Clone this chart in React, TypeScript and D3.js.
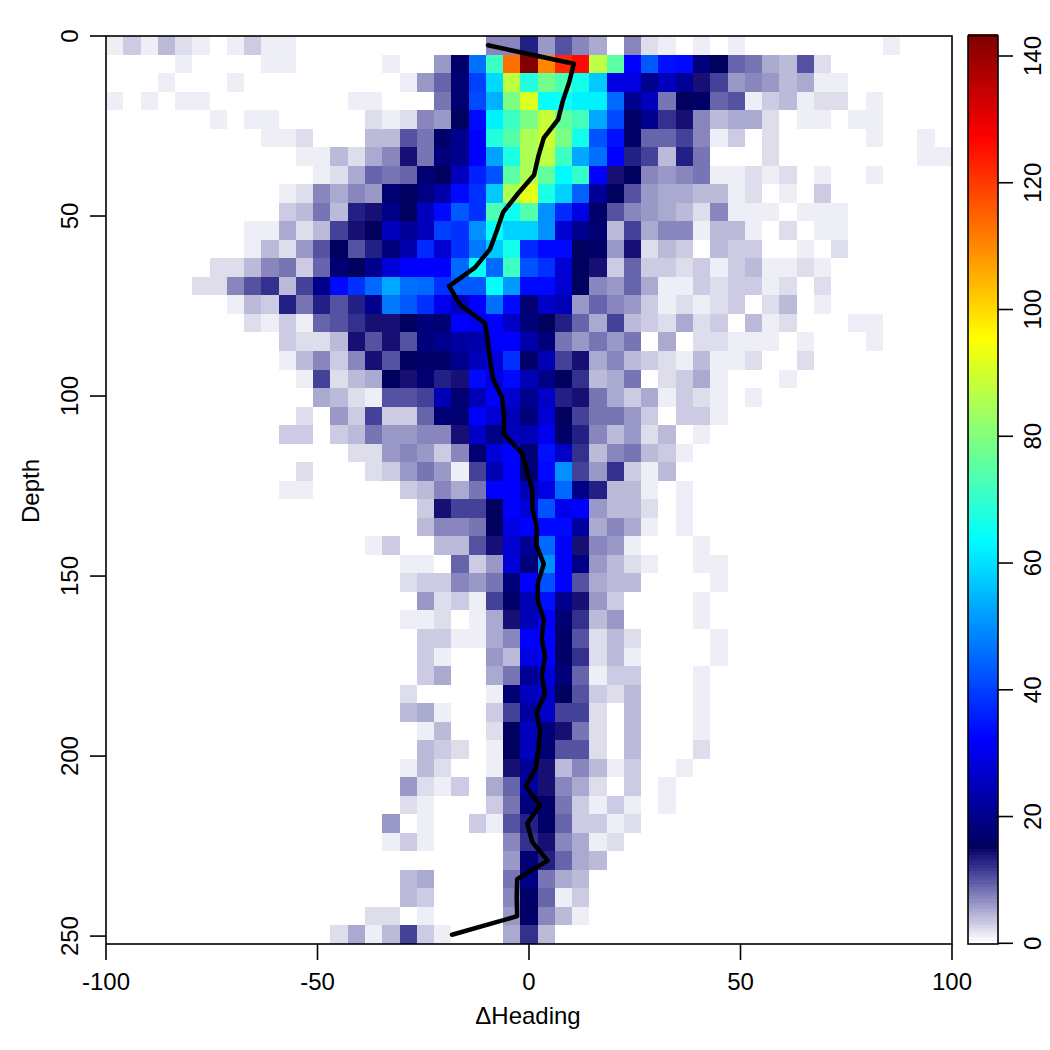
import React from 'react';
import * as d3 from 'd3';

// bin counts per depth row, left to right; missing trailing cells are empty
const z10 = [0, 0, 0, 0, 0, 0, 0, 0, 0, 0];
const counts: number[][] = [
  [1,3,1,4,2,1,0,1,3,1, 1,0,0,0,0,0,0,0,0,0, 0,0,7,7,13,6,10,7,5,0, 7,2,1,0,1,0,1,0,0,0, 0,0,0,0,0,1],
  [0,0,0,0,1,0,0,0,0,1, 1,0,0,0,0,0,1,0,0,6, 16,46,71,113,143,110,122,126,87,75, 32,43,34,33,18,15,9,8,5,4, 10,2],
  [0,0,0,1,0,0,0,1,0,0, 0,0,0,0,0,0,0,1,6,9, 17,40,59,87,68,78,73,66,57,29, 29,20,25,21,14,11,6,7,6,4, 5,1,1],
  [1,0,1,0,1,1,0,0,0,0, 0,0,0,0,1,1,0,0,0,8, 17,41,54,79,91,64,65,62,62,45, 20,25,8,15,16,9,10,1,3,4, 1,2,2,0,1],
  [0,0,0,0,0,0,1,0,1,1, 0,0,0,0,0,2,1,2,7,6, 15,33,62,71,79,88,76,72,53,41, 16,20,12,14,7,4,5,5,2,0, 1,1,0,1,1],
  [0,0,0,0,0,0,0,0,0,1, 1,2,0,0,0,4,4,10,8,16, 20,32,68,74,85,89,79,66,42,34, 16,9,9,11,7,1,3,0,2,0, 0,0,0,0,1,0,0,1],
  [...z10, 0,1,1,4,2,5,7,14,8,18, 20,32,52,67,85,87,71,53,46,32, 13,11,4,13,8,0,0,0,2,0, 0,0,0,0,0,0,0,1,1],
  [...z10, 0,0,1,2,5,9,8,9,17,15, 25,36,42,75,85,76,63,70,32,14, 15,7,6,7,8,1,1,2,1,2, 0,1,0,0,1],
  [...z10, 1,2,7,5,7,6,17,15,19,23, 33,38,57,85,92,67,58,44,21,15, 10,6,5,5,4,4,1,2,0,1, 0,3],
  [...z10, 3,4,8,4,13,14,19,15,25,33, 43,38,73,65,74,50,37,29,16,10, 7,6,5,4,2,7,1,1,1,0, 1,1,1],
  [0,0,0,0,0,0,0,0,1,1, 5,2,4,11,14,15,25,21,25,40, 38,50,64,58,58,50,27,20,17,4, 11,5,7,7,1,4,4,1,0,2, 0,1,1],
  [0,0,0,0,0,0,0,0,1,4, 2,6,10,15,10,13,18,23,37,27, 38,47,57,66,37,33,33,15,16,6, 14,2,4,3,0,4,3,3,0,0, 1,0,2],
  [0,0,0,0,0,0,2,2,4,7, 8,3,9,17,15,20,28,32,32,32, 45,64,45,71,42,38,27,15,14,3, 9,3,3,2,3,1,3,4,1,1, 2,1],
  [0,0,0,0,0,2,2,7,10,12, 4,11,20,33,38,45,53,46,45,38, 43,43,64,51,33,33,27,15,7,6, 9,5,1,1,3,2,3,3,1,2, 0,2],
  [0,0,0,0,0,0,0,1,4,3, 13,8,13,10,13,20,47,43,38,30, 25,32,46,33,17,26,24,6,9,7, 6,3,1,2,1,2,3,0,2,4, 0,1],
  [0,0,0,0,0,0,0,0,2,1, 3,1,9,10,12,14,14,15,18,17, 32,30,32,26,18,15,13,9,5,11, 4,3,2,5,2,3,0,4,1,2, 0,0,0,1,1],
  [...z10, 3,2,2,4,14,10,14,10,18,20, 22,23,32,32,23,18,8,6,8,6, 8,0,5,0,2,2,1,1,1,0, 1,0,0,0,1],
  [...z10, 1,4,7,3,7,14,10,15,16,16, 20,25,28,38,16,24,11,14,5,7, 4,3,2,1,4,1,1,2,0,0, 2],
  [...z10, 0,1,11,2,4,5,15,14,17,13, 14,33,29,33,24,19,15,12,4,5, 8,0,2,3,5,1,0,0,0,1],
  [...z10, 0,0,5,4,2,1,10,10,11,24, 17,24,32,27,20,26,13,14,8,5, 3,5,1,3,2,1,0,1],
  [...z10, 0,2,0,6,3,11,3,3,9,17, 17,32,27,24,18,27,15,11,8,8, 6,3,0,3,3,1],
  [...z10, 3,3,0,3,4,8,6,6,7,7, 14,26,19,25,24,30,16,13,7,4, 6,2,4,0,1],
  [...z10, 0,0,0,0,2,2,6,7,6,3, 7,17,28,32,17,34,26,12,4,7, 8,4,3,1],
  [...z10, 0,2,0,0,0,2,3,6,8,6, 1,11,24,32,17,33,50,11,6,12, 3,1,4],
  [...z10, 1,1,0,0,0,0,0,3,4,7, 5,8,32,32,24,29,45,19,13,4, 4,1,0,1],
  [...z10, 0,0,0,0,0,0,0,0,3,14, 11,11,15,32,28,42,30,32,6,4, 4,2,0,1],
  [...z10, 0,0,0,0,0,0,0,0,4,7, 7,8,15,29,32,33,33,22,5,7, 5,1,0,1],
  [...z10, 0,0,0,0,0,1,3,0,0,4, 4,10,14,27,21,45,32,14,7,6, 1,0,0,0,1],
  [...z10, 0,0,0,0,0,0,0,1,1,0, 9,3,6,28,18,50,32,19,6,4, 2,1,0,0,1,1],
  [...z10, 0,0,0,0,0,0,0,2,3,3, 7,6,8,18,32,42,32,10,5,4, 4,0,0,0,0,1],
  [...z10, 0,0,0,0,0,0,0,0,6,2, 3,1,11,16,24,34,20,14,6,3, 0,0,0,0,1],
  [...z10, 0,0,0,0,0,0,0,1,1,2, 0,1,5,14,24,32,17,12,4,6, 0,0,0,0,1],
  [...z10, 0,0,0,0,0,0,0,0,3,3, 1,1,5,7,32,32,16,10,2,4, 2,0,0,0,0,1],
  [...z10, 0,0,0,0,0,0,0,0,3,1, 0,0,6,4,29,32,16,12,2,4, 1,0,0,0,0,1],
  [...z10, 0,0,0,0,0,0,0,0,3,5, 0,0,5,8,21,28,18,9,1,3, 3,0,0,0,1],
  [...z10, 0,0,0,0,0,0,0,2,0,0, 0,0,1,17,25,26,15,10,3,2, 4,0,0,0,1],
  [...z10, 0,0,0,0,0,0,0,4,5,1, 0,0,3,11,22,26,11,11,2,0, 4,0,0,0,1],
  [...z10, 0,0,0,0,0,0,0,0,1,4, 0,0,2,15,25,18,14,8,2,0, 4,0,0,0,1],
  [...z10, 0,0,0,0,0,0,0,0,4,3, 2,0,1,15,25,17,10,10,2,0, 4,0,0,0,2],
  [...z10, 0,0,0,0,0,0,0,1,4,2, 0,0,1,14,21,14,4,7,4,1, 3,0,0,1],
  [...z10, 0,0,0,0,0,0,0,6,2,1, 3,0,5,9,22,14,7,5,2,0, 3,0,1],
  [...z10, 0,0,0,0,0,0,0,2,1,0, 0,0,3,8,18,16,8,3,1,3, 1,0,1],
  [...z10, 0,0,0,0,0,0,6,0,1,0, 0,3,1,10,13,16,9,3,3,1, 2],
  [...z10, 0,0,0,0,0,0,1,3,1,0, 0,0,0,7,12,14,7,5,1,2],
  [...z10, ...z10, 0,0,0,6,17,13,9,5,4],
  [...z10, 0,0,0,0,0,0,0,4,5,0, 0,0,0,8,19,8,5,4],
  [...z10, 0,0,0,0,0,0,0,4,3,0, 0,0,0,7,16,9,1,3],
  [...z10, 0,0,0,0,0,2,2,0,1,0, 0,0,0,6,16,7,4,1],
  [...z10, 0,0,0,2,5,1,4,11,3,1, 0,0,0,5,12,4],
];

// mean heading per depth row
const meanHeading = [
  -9.7, 10.6, 9.5, 8.0, 6.9, 3.5, 2.2, 1.2, -2.6, -6.1,
  -7.6, -9.2, -12.8, -18.9, -16.3, -10.4, -9.7, -9.2, -8.5, -6.4,
  -5.9, -5.9, -1.7, -0.5, 0.8, 0.8, 1.8, 1.8, 3.5, 2.1,
  2.1, 3.5, 3.0, 3.8, 3.0, 3.8, 1.8, 2.6, 2.2, 1.6,
  -0.8, 2.6, -0.4, 0.8, 4.4, -2.8, -2.9, -2.8, -18.2,
];

const xTicks = [-100, -50, 0, 50, 100];
const yTicks = [0, 50, 100, 150, 200, 250];
const barTicks = [0, 20, 40, 60, 80, 100, 120, 140];

const nCols = 49;
const maxDepth = 252.2;
const maxCount = 143.2;

const colorStops = [0, 13, 14, 15, 32, 47.75, 63.6, 79.5, 95.25, 111, 127, 143.2];
const colorValues = ['#ffffff', '#221f85', '#170f74', '#00005f', '#0000ff', '#007fff', '#00ffff', '#7fff7f', '#ffff00', '#ff7f00', '#ff0000', '#7f0000'];

const color = d3.scaleLinear<string>().domain(colorStops).range(colorValues).interpolate(d3.interpolateRgb);

const plot = { left: 106, right: 952, top: 36, bottom: 944 };
const bar = { left: 968, right: 998, top: 36, bottom: 944 };
const font = '"Liberation Sans", Arial, sans-serif';
const fontSize = 24;
const axisWidth = 1.6;
const tickLen = 16;

export default function App() {
  const x = d3.scaleLinear().domain([-100, 100]).range([plot.left, plot.right]);
  const y = d3.scaleLinear().domain([0, maxDepth]).range([plot.top, plot.bottom]);
  const colBand = d3.scaleBand<number>().domain(d3.range(nCols)).range([plot.left, plot.right]);
  const rowBand = d3.scaleBand<number>().domain(d3.range(counts.length)).range([plot.top, plot.bottom]);
  const barY = d3.scaleLinear().domain([0, 140]).range([943.3, 56]);

  const line = d3.line<number>()
    .x(d => x(d))
    .y((_, i) => rowBand(i)! + rowBand.bandwidth() / 2);

  // colour bar is drawn as thin steps like the image() legend
  const barSteps = d3.range(0, maxCount, 0.5);

  return (
    <svg width={1050} height={1050} style={{ position: 'absolute', left: 0, top: 0, background: '#fff' }} fontFamily={font} fontSize={fontSize} fill="#000">
      <g shapeRendering="crispEdges">
        {counts.map((row, j) =>
          row.map((v, i) =>
            v > 0 ? (
              <rect key={`${j}-${i}`} x={colBand(i)} y={rowBand(j)} width={colBand.bandwidth()} height={rowBand.bandwidth()} fill={color(v)} />
            ) : null
          )
        )}
      </g>
      <path d={line(meanHeading) ?? ''} fill="none" stroke="#000" strokeWidth={4.5} strokeLinejoin="round" strokeLinecap="round" />
      <rect x={plot.left} y={plot.top} width={plot.right - plot.left} height={plot.bottom - plot.top} fill="none" stroke="#000" strokeWidth={axisWidth} />

      {xTicks.map(t => (
        <g key={t}>
          <line x1={x(t)} x2={x(t)} y1={plot.bottom} y2={plot.bottom + tickLen} stroke="#000" strokeWidth={axisWidth} />
          <text x={x(t)} y={990} textAnchor="middle">{t}</text>
        </g>
      ))}
      {yTicks.map(t => (
        <g key={t}>
          <line x1={plot.left - tickLen} x2={plot.left} y1={y(t)} y2={y(t)} stroke="#000" strokeWidth={axisWidth} />
          <text transform={`translate(78,${y(t)}) rotate(-90)`} textAnchor="middle">{t}</text>
        </g>
      ))}
      <text x={528} y={1024} textAnchor="middle">ΔHeading</text>
      <text transform={`translate(39,491) rotate(-90)`} textAnchor="middle">Depth</text>

      <g shapeRendering="crispEdges">
        {barSteps.map(v => (
          <rect key={v} x={bar.left} y={barY(v + 0.5)} width={bar.right - bar.left} height={barY(v) - barY(v + 0.5) + 0.5} fill={color(v)} />
        ))}
      </g>
      <rect x={bar.left} y={bar.top} width={bar.right - bar.left} height={bar.bottom - bar.top} fill="none" stroke="#000" strokeWidth={axisWidth} />
      {barTicks.map(t => (
        <g key={t}>
          <line x1={bar.right} x2={bar.right + 15} y1={barY(t)} y2={barY(t)} stroke="#000" strokeWidth={axisWidth} />
          <text transform={`translate(1041,${barY(t)}) rotate(-90)`} textAnchor="middle">{t}</text>
        </g>
      ))}
    </svg>
  );
}
